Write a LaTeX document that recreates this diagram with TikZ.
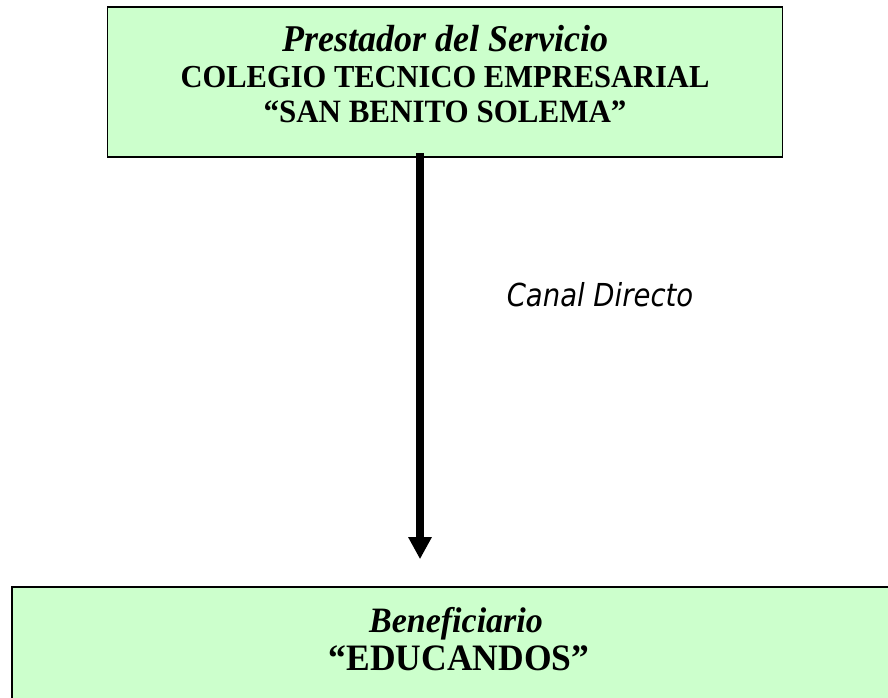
\documentclass[tikz,border=0pt]{standalone}
\usepackage{fontspec}
\setmainfont{Liberation Serif}
\newfontfamily\canalfont{DejaVu Sans}
\usetikzlibrary{arrows.meta}
\definecolor{boxgreen}{HTML}{CCFFCC}
\newcommand{\vstretch}[1]{\scalebox{1}[1.05]{#1}}
\newcommand{\vstretchb}[1]{\scalebox{1}[1.15]{#1}}
\begin{document}
\begin{tikzpicture}[x=1pt,y=-1pt,
  box/.style={draw=black, line width=1.6pt, fill=boxgreen, inner sep=0pt},
  txt/.style={anchor=base, inner sep=0pt},
  flow/.style={line width=8pt, -{Triangle[width=22pt,length=22pt]}}]
\useasboundingbox (0,0) rectangle (888,698);
\node[box, minimum width=675pt, minimum height=150pt] (top) at (445,82) {};
\begin{scope}
\clip (0,0) rectangle (888,698);
\node[box, minimum width=890pt, minimum height=140pt] (bot) at (457,657) {};
\end{scope}
\node[txt] (l1) at (445,52) {\vstretch{\fontsize{36}{40}\selectfont\bfseries\itshape Prestador del Servicio}};
\node[txt] (l2) at (445,88) {\vstretch{\fontsize{30.5}{34}\selectfont\bfseries COLEGIO TECNICO EMPRESARIAL}};
\node[txt] (l3) at (445,123) {\vstretch{\fontsize{31}{34}\selectfont\bfseries “SAN BENITO SOLEMA”}};
\node[txt] (b1) at (456,632) {\vstretch{\fontsize{34}{38}\selectfont\bfseries\itshape Beneficiario}};
\node[txt] (b2) at (459,670) {\vstretch{\fontsize{35.5}{39}\selectfont\bfseries “EDUCANDOS”}};
\node[txt] (canal) at (600,306) {\vstretchb{\fontsize{27.5}{31}\selectfont\canalfont\itshape Canal Directo}};
\draw[flow, shorten >=27pt] ([xshift=-25pt,yshift=5pt]top.south) -- ([xshift=-37pt]bot.north);
\end{tikzpicture}
\end{document}
